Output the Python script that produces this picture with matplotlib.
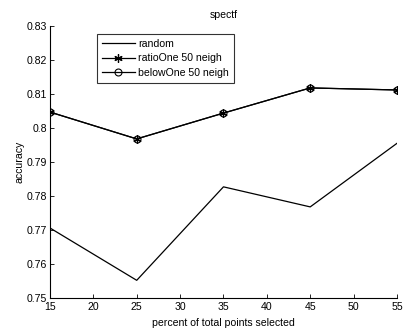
import matplotlib
matplotlib.use("Agg")
import matplotlib.pyplot as plt

plt.rcParams['font.family'] = ['Liberation Sans', 'DejaVu Sans']

percent = [15, 25, 35, 45, 55]
random_acc = [0.7706, 0.7552, 0.7827, 0.7768, 0.7955]
ratio_one = [0.8047, 0.7968, 0.8044, 0.8118, 0.8112]
below_one = [0.8047, 0.7968, 0.8044, 0.8118, 0.8112]
x_ticks = [15, 20, 25, 30, 35, 40, 45, 50, 55]
y_ticks = [0.75, 0.76, 0.77, 0.78, 0.79, 0.8, 0.81, 0.82, 0.83]
y_labels = ['0.75', '0.76', '0.77', '0.78', '0.79', '0.8', '0.81', '0.82', '0.83']

fig = plt.figure(figsize=(4.03, 3.30), dpi=100)
ax = fig.add_axes([0.124, 0.097, 0.861, 0.824])

asterisk = (6, 2, 0)
ax.plot(percent, random_acc, color='black', lw=0.9, label='random')
ax.plot(percent, ratio_one, color='black', lw=0.9, marker=asterisk, ms=6,
        mew=0.9, label='ratioOne 50 neigh')
ax.plot(percent, below_one, color='black', lw=0.9, marker='o', ms=5,
        mfc='none', mew=0.8, label='belowOne 50 neigh')

ax.set_xlim(15, 55)
ax.set_ylim(0.75, 0.83)
ax.set_xticks(x_ticks)
ax.set_yticks(y_ticks)
ax.set_yticklabels(y_labels)
ax.tick_params(direction='in', length=3, labelsize=7.6, width=0.6)
ax.tick_params(axis='x', pad=3)
ax.tick_params(axis='y', pad=2)
for s in ('top', 'right'):
    ax.spines[s].set_visible(False)
for s in ('left', 'bottom'):
    ax.spines[s].set_linewidth(0.8)

ax.set_title('spectf', fontsize=7.6, pad=6)
ax.set_xlabel('percent of total points selected', fontsize=7.6, labelpad=4)
ax.set_ylabel('accuracy', fontsize=7.6, labelpad=2)

leg = ax.legend(loc='upper left', bbox_to_anchor=(0.136, 0.97), fontsize=7.6,
                frameon=True, fancybox=False, edgecolor='black',
                borderpad=0.45, labelspacing=0.42, handlelength=3.1,
                handletextpad=0.35, borderaxespad=0)
leg.get_frame().set_linewidth(0.8)

fig.savefig('out.png', dpi=100)
